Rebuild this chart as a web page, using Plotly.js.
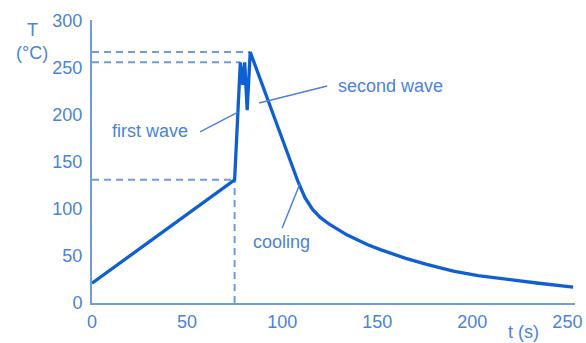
<!DOCTYPE html>
<html>
<head>
<meta charset="utf-8">
<script src="https://cdn.plot.ly/plotly-3.0.1.min.js"></script>
<style>html,body{margin:0;padding:0;background:#fff;}#chart{width:586px;height:343px;}</style>
</head>
<body>
<div id="chart"></div>
<script>
// Soldering temperature profile (wave soldering)
const timeS = [0, 75, 78, 79.3, 80.3, 81.6, 83.2, 108.4, 112, 116, 120, 125, 134, 145, 152, 165, 176, 190, 203, 216, 235, 253];
const tempC = [21, 131, 256, 232, 256, 205, 267, 128.7, 112, 99.5, 91, 83.5, 72.5, 62, 56.5, 47.5, 41, 34, 29, 25.5, 21, 17];

const preheatEnd = {t: 75, T: 131};
const firstPeak = {t: 78, T: 256};
const secondPeak = {t: 83.2, T: 267};

const xTicks = [0, 50, 100, 150, 200, 250];
const yTicks = [0, 50, 100, 150, 200, 250, 300];

const labels = [
  {text: 'first wave', t: 30.5, T: 183, from: [56.8, 182], to: [76.8, 203]},
  {text: 'second wave', t: 157, T: 231, from: [87.9, 212.8], to: [123.7, 230.9]},
  {text: 'cooling', t: 99.5, T: 65, from: [100, 79.8], to: [109.5, 127.7]}
];

const lineBlue = '#0f5fd2';
const textBlue = '#4a82dc';
const axisBlue = '#6d9be4';
const FONT = 'Liberation Sans, Arial, sans-serif';

const dash = {color: axisBlue, width: 2, dash: '7px,5px'};
const traces = [
  {x: [0, secondPeak.t], y: [secondPeak.T, secondPeak.T], mode: 'lines', line: dash, hoverinfo: 'skip'},
  {x: [0, firstPeak.t], y: [firstPeak.T, firstPeak.T], mode: 'lines', line: dash, hoverinfo: 'skip'},
  {x: [0, preheatEnd.t], y: [preheatEnd.T, preheatEnd.T], mode: 'lines', line: dash, hoverinfo: 'skip'},
  {x: [preheatEnd.t, preheatEnd.t], y: [0, preheatEnd.T], mode: 'lines', line: dash, hoverinfo: 'skip'},
  {x: timeS, y: tempC, mode: 'lines', line: {color: lineBlue, width: 3.3, shape: 'linear'}}
];

const annotations = labels.map(l => ({
  x: l.t, y: l.T, xref: 'x', yref: 'y', text: l.text, showarrow: false,
  xanchor: 'center', yanchor: 'middle',
  font: {family: FONT, size: 18, color: textBlue}
}));
annotations.push(
  {xref: 'paper', yref: 'paper', x: -0.124, y: 0.965, text: 'T', showarrow: false, xanchor: 'center', yanchor: 'middle', font: {family: FONT, size: 18, color: textBlue}},
  {xref: 'paper', yref: 'paper', x: -0.124, y: 0.883, text: '(°C)', showarrow: false, xanchor: 'center', yanchor: 'middle', font: {family: FONT, size: 18, color: textBlue}},
  {xref: 'paper', yref: 'paper', x: 0.893, y: -0.102, text: 't (s)', showarrow: false, xanchor: 'center', yanchor: 'middle', font: {family: FONT, size: 18, color: textBlue}}
);

const shapes = labels.map(l => ({
  type: 'line', xref: 'x', yref: 'y', x0: l.from[0], y0: l.from[1], x1: l.to[0], y1: l.to[1],
  line: {color: textBlue, width: 1.5}
}));

const layout = {
  width: 586, height: 343,
  margin: {l: 92, r: 11, t: 20, b: 40},
  paper_bgcolor: '#fff', plot_bgcolor: '#fff',
  showlegend: false,
  xaxis: {range: [0, 254], tickvals: xTicks, ticktext: xTicks.map(String), showgrid: false, zeroline: false,
    showline: true, linecolor: axisBlue, linewidth: 2, ticks: '', ticklabelstandoff: 1,
    tickfont: {family: FONT, size: 18, color: textBlue}},
  yaxis: {range: [0, 301], tickvals: yTicks, ticktext: yTicks.map(String), showgrid: false, zeroline: false,
    showline: true, linecolor: axisBlue, linewidth: 2, ticks: '', ticklabelstandoff: 4,
    tickfont: {family: FONT, size: 18, color: textBlue}},
  annotations: annotations,
  shapes: shapes
};

Plotly.newPlot('chart', traces, layout, {staticPlot: true, displayModeBar: false});
</script>
</body>
</html>
